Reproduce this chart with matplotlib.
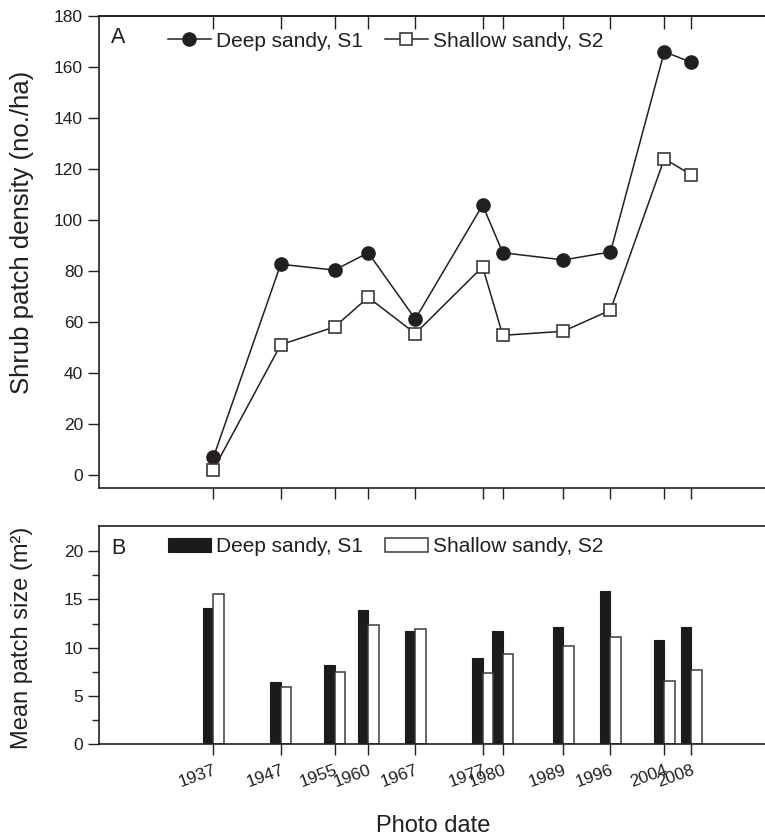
import numpy as np
import matplotlib
matplotlib.use("Agg")
import matplotlib.pyplot as plt
from matplotlib.lines import Line2D
from matplotlib.patches import Patch

plt.rcParams['font.family'] = ['Liberation Sans', 'DejaVu Sans']

# Photo dates
years = [1937, 1947, 1955, 1960, 1967, 1977, 1980, 1989, 1996, 2004, 2008]
year_labels = [str(y) for y in years]

# Shrub patch density (no./ha)
density_s1 = [7.0, 82.8, 80.5, 87.3, 61.3, 106.0, 87.3, 84.5, 87.6, 166.2, 162.0]
density_s2 = [2.2, 51.2, 58.2, 69.8, 55.6, 81.8, 54.9, 56.5, 64.8, 124.2, 117.9]

# Mean patch size (m2)
size_s1 = [14.1, 6.5, 8.2, 13.9, 11.7, 8.9, 11.7, 12.1, 15.9, 10.8, 12.1]
size_s2 = [15.6, 5.9, 7.5, 12.3, 11.9, 7.4, 9.4, 10.2, 11.1, 6.6, 7.7]

series_names = ["Deep sandy, S1", "Shallow sandy, S2"]

INK = "#231f20"
W, H = 765, 838
fig = plt.figure(figsize=(W / 100, H / 100), dpi=100)

def frac_box(left, top, right, bottom):
    return [left / W, 1 - bottom / H, (right - left) / W, (bottom - top) / H]

ax1 = fig.add_axes(frac_box(99, 16.5, 772, 488))
ax2 = fig.add_axes(frac_box(99, 526, 772, 744.3))

for ax in (ax1, ax2):
    for s in ax.spines.values():
        s.set_linewidth(1.2)
        s.set_color(INK)
    ax.set_xlim(1920, 2020)
    ax.set_xticks(years)
    ax.tick_params(colors=INK, width=1.0, length=8, labelsize=12.5)

# ---- Panel A: density lines ----
ax1.plot(years, density_s1, color=INK, lw=1.1, marker='o', ms=9.5,
         mfc=INK, mec=INK, label=series_names[0], zorder=3)
ax1.plot(years, density_s2, color=INK, lw=1.1, marker='s', ms=8.3,
         mfc='white', mec='#3a3a3a', mew=1.2, label=series_names[1], zorder=3)
ax1.set_ylim(-5, 180)
ax1.set_yticks(np.arange(0, 181, 20))
ax1.tick_params(axis='x', direction='out', labelbottom=False)
ax1.tick_params(axis='y', direction='out')
top_ax = ax1.secondary_xaxis('top')
top_ax.set_xticks(years)
top_ax.tick_params(direction='in', length=9, width=1.0, colors=INK, labeltop=False)
top_ax.spines['top'].set_linewidth(1.2)
top_ax.spines['top'].set_color(INK)

ax1.text(0.018, 0.955, "A", transform=ax1.transAxes, fontsize=15.5,
         color=INK, ha='left', va='center')
handles1 = [
    Line2D([], [], color=INK, lw=1.1, marker='o', ms=9.5, mfc=INK, mec=INK),
    Line2D([], [], color=INK, lw=1.1, marker='s', ms=8.3, mfc='white',
           mec='#3a3a3a', mew=1.2),
]
ax1.legend(handles1, series_names, loc='center left',
           bbox_to_anchor=(0.1025, 0.948), ncol=2, frameon=False,
           fontsize=15, borderpad=0, borderaxespad=0, handlelength=2.06,
           handletextpad=0.25, columnspacing=1.05, labelcolor=INK)

# ---- Panel B: patch size bars ----
bw = 1.55
ax2.bar(years, size_s1, width=-bw, align='edge', color='#1c1a1b',
        edgecolor='#1c1a1b', lw=0.8, zorder=2)
ax2.bar(years, size_s2, width=bw, align='edge', color='white',
        edgecolor='#3a3a3a', lw=1.1, zorder=2)
ax2.set_ylim(0, 22.6)
ax2.set_yticks(np.arange(0, 21, 5))
ax2.set_yticks(np.arange(2.5, 20, 5), minor=True)
ax2.tick_params(axis='y', which='minor', direction='out', length=5,
                width=1.0, colors=INK)
ax2.tick_params(axis='both', which='major', direction='out')
ax2.tick_params(axis='x', pad=5)
ax2.set_xticklabels(year_labels, rotation=20, ha='right',
                    rotation_mode='anchor', fontsize=12.5)

ax2.text(0.018, 0.899, "B", transform=ax2.transAxes, fontsize=15.5,
         color=INK, ha='left', va='center')
handles2 = [
    Patch(facecolor='#1c1a1b', edgecolor='#1c1a1b', lw=0.8),
    Patch(facecolor='white', edgecolor='#3a3a3a', lw=1.1),
]
ax2.legend(handles2, series_names, loc='center left',
           bbox_to_anchor=(0.1025, 0.904), ncol=2, frameon=False,
           fontsize=15, borderpad=0, borderaxespad=0, handlelength=2.06,
           handleheight=0.6, handletextpad=0.25, columnspacing=1.05,
           labelcolor=INK)

# ---- Axis titles ----
fig.text(22 / W, 1 - 232 / H, "Shrub patch density (no./ha)", rotation=90,
         ha='center', va='center', fontsize=18.5, color=INK)
fig.text(22 / W, 1 - 638 / H, "Mean patch size (m²)", rotation=90,
         ha='center', va='center', fontsize=17, color=INK)
fig.text(433 / W, 1 - 832 / H, "Photo date", ha='center', va='baseline',
         fontsize=17, color=INK)

fig.savefig("out.png", dpi=100)
